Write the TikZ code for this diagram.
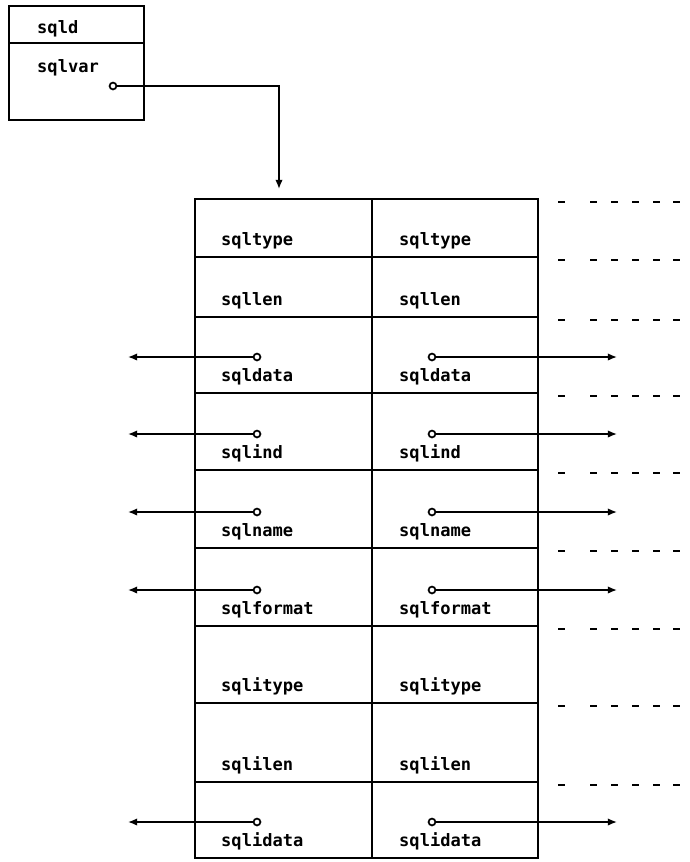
\documentclass[tikz,border=0pt]{standalone}
\usepackage{fontspec}
\setmonofont{DejaVu Sans Mono}
\usetikzlibrary{arrows.meta}

\tikzset{
  lbl/.style={anchor=base west, inner sep=0pt,
    font=\ttfamily\bfseries\fontsize{17}{20}\selectfont},
  ptr/.style={circle, draw, line width=0.6mm, inner sep=0pt, minimum size=2.4mm},
  link/.style={line width=0.55mm, -{Latex[length=3.2mm,width=2.6mm]}},
  box/.style={line width=0.8mm},
}

\begin{document}
\begin{tikzpicture}[x=0.35mm,y=-0.35mm]
    \useasboundingbox (0,0) rectangle (690,862);

    % descriptor
    \draw[box] (9,6) rectangle (144,120);
    \draw[box] (9,43) -- (144,43);
    \node[lbl] (sqld) at (37,33) {sqld};
    \node[lbl] (sqlvar) at (37,72) {sqlvar};
    \node[ptr] (var) at (113,86) {};
    \coordinate (tab) at (279,189);
    \draw[link] (var) -| (tab);

    % two sqlvar entries side by side
    \draw[box] (195,199) rectangle (538,858);
    \draw[box] (372,199) -- (372,858);
    \foreach \y in {257,317,393,470,548,626,703,782}
      \draw[box] (195,\y) -- (538,\y);

    % more entries follow
    \foreach \y in {199,257,317,393,470,548,626,703,782}
      \foreach \d in {558,590,611,632,653,673}
        \draw[line width=0.9mm] (\d,\y+3) -- ++(7,0);

    \foreach \b/\f/\p [count=\i] in {257/sqltype/0, 317/sqllen/0,
        393/sqldata/1, 470/sqlind/1, 548/sqlname/1, 626/sqlformat/1,
        703/sqlitype/0, 782/sqlilen/0, 858/sqlidata/1}
    {
      \node[lbl] (fl\i) at (221,\b-12) {\f};
      \node[lbl] (fr\i) at (399,\b-12) {\f};
      \ifnum\p=1
        \node[ptr] (pl\i) at (257,\b-36) {};
        \node[ptr] (pr\i) at (432,\b-36) {};
        \coordinate (el\i) at (128,\b-36);
        \coordinate (er\i) at (617,\b-36);
        \draw[link] (pl\i) -- (el\i);
        \draw[link] (pr\i) -- (er\i);
      \fi
    }
\end{tikzpicture}
\end{document}
